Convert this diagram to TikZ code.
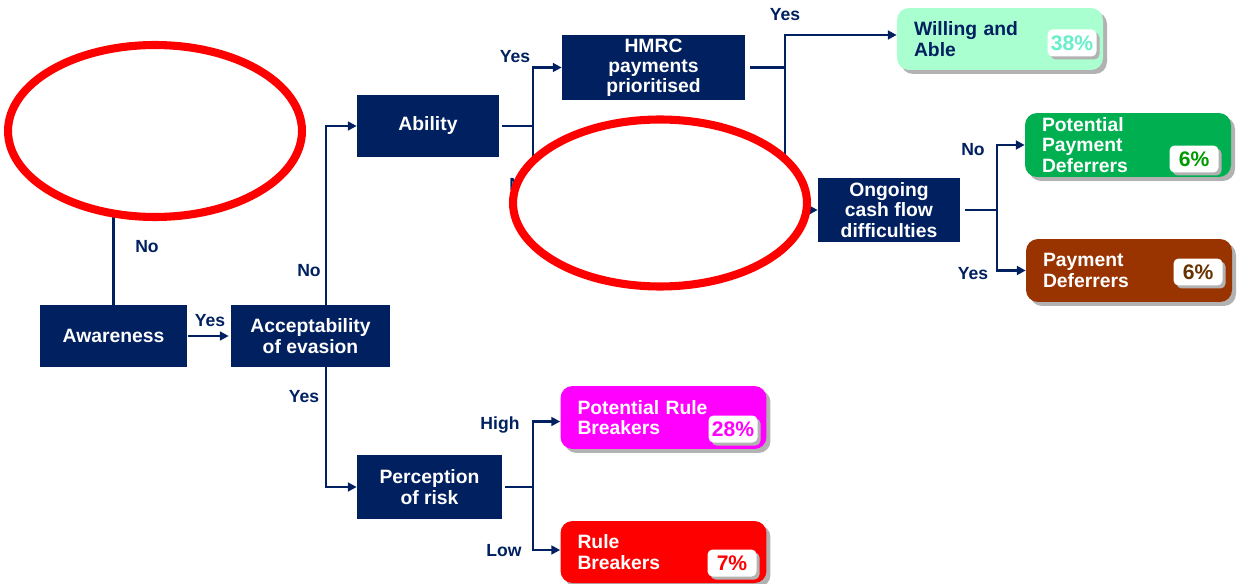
\documentclass[tikz,border=0pt]{standalone}
\usepackage{fontspec}
\setmainfont{Liberation Sans}
\usetikzlibrary{arrows.meta,shapes.geometric,shadows}

\definecolor{navy}{RGB}{0,32,96}
\definecolor{mint}{RGB}{170,255,208}
\definecolor{mintdark}{RGB}{102,240,200}
\definecolor{leaf}{RGB}{0,176,80}
\definecolor{leafdark}{RGB}{0,153,0}
\definecolor{rust}{RGB}{153,51,0}
\definecolor{rustdark}{RGB}{102,51,0}
\definecolor{pinkish}{RGB}{255,0,255}
\definecolor{redish}{RGB}{255,0,0}

\tikzset{
  qbox/.style={fill=navy, text=white, font=\bfseries\fontsize{11}{11.5}\selectfont,
    align=center, inner sep=0pt},
  rbox/.style={rounded corners=0.24cm, text=white, font=\bfseries\fontsize{11}{11.5}\selectfont,
    align=left, inner xsep=0.34cm, inner ysep=0pt, minimum width=4.12cm, text width=3.44cm,
    drop shadow={shadow xshift=0.08cm, shadow yshift=-0.08cm, fill=gray!60, opacity=1}},
  pct/.style={fill=white, rounded corners=0.1cm, font=\bfseries\fontsize{12}{12}\selectfont,
    minimum width=0.98cm, minimum height=0.54cm, inner sep=0pt,
    drop shadow={shadow xshift=0.06cm, shadow yshift=-0.06cm, fill=gray!60, opacity=1}},
  lab/.style={text=navy, font=\bfseries\fontsize{10}{10}\selectfont, inner sep=0pt},
  link/.style={draw=navy, line width=1.2pt},
  arr/.style={link, -{Triangle[length=5pt,width=5pt]}},
  ring/.style={ellipse, draw=redish, fill=white, line width=4.6pt}
}

\begin{document}
\begin{tikzpicture}[x=0.02cm, y=-0.02cm]
  \useasboundingbox (0,0) rectangle (1239,584);

  % question boxes
  \node[qbox, minimum width=2.94cm, minimum height=1.24cm] (aware) at (113.5,336) {Awareness};
  \node[qbox, minimum width=3.18cm, minimum height=1.24cm] (accept) at (310.5,336) {Acceptability\\of evasion};
  \node[qbox, minimum width=2.84cm, minimum height=1.24cm] (ability) at (428,126) {Ability};
  \node[qbox, minimum width=3.66cm, minimum height=1.3cm] (hmrc) at (653.5,67.5) {HMRC\\payments\\prioritised};
  \node[qbox, minimum width=2.84cm, minimum height=1.28cm] (ongoing) at (889,210) {Ongoing\\cash flow\\difficulties};
  \node[qbox, minimum width=2.9cm, minimum height=1.28cm] (risk) at (429.5,487) {Perception\\of risk};

  % outcome boxes
  \node[rbox, fill=mint, text=navy, minimum height=1.24cm] (willing) at (1000,39) {Willing and\\Able};
  \node[rbox, fill=leaf, minimum height=1.28cm] (ppd) at (1128,145) {Potential\\Payment\\Deferrers};
  \node[rbox, fill=rust, minimum height=1.26cm] (pd) at (1129,270.5) {Payment\\Deferrers};
  \node[rbox, fill=pinkish, minimum height=1.26cm] (prb) at (663.5,417.5) {Potential Rule\\Breakers};
  \node[rbox, fill=redish, minimum height=1.24cm] (rb) at (663.5,552) {Rule\\Breakers};

  \node[pct, text=mintdark] (pwilling) at (1072,43) {38\%};
  \node[pct, text=leafdark] (pppd) at (1194,159) {6\%};
  \node[pct, text=rustdark] (ppd2) at (1198,272) {6\%};
  \node[pct, text=pinkish] (pprb) at (733,429) {28\%};
  \node[pct, text=redish] (prb2) at (732,563) {7\%};

  % connectors
  \coordinate (abno) at (620,210);
  \draw[link] (aware.north) -- ++(0,-120);
  \draw[arr] ([xshift=-0.06cm]aware.east) ++(4,0) -- ([xshift=-0.04cm]accept.west);
  \draw[arr] ([xshift=0.31cm]accept.north) |- (ability.west);
  \draw[arr] ([xshift=0.31cm]accept.south) |- (risk.west);
  \draw[link] ([xshift=0.06cm]ability.east) -- ++(31,0) coordinate (jab);
  \draw[arr] (jab) |- (hmrc.west);
  \draw[link] (jab) |- (abno);
  \draw[link] ([xshift=0.1cm]hmrc.east) -- ++(35,0) coordinate (jhm);
  \draw[arr] (jhm) |- ([yshift=0.08cm]willing.west);
  \draw[arr] (jhm) |- (ongoing.west);
  \draw[link] ([xshift=0.1cm]ongoing.east) -- ++(32,0) coordinate (jog);
  \draw[arr] (jog) |- (ppd.west);
  \draw[arr] (jog) |- (pd.west);
  \draw[link] ([xshift=0.06cm]risk.east) -- ++(28,0) coordinate (jrk);
  \draw[arr] (jrk) |- ([yshift=-0.08cm]prb.west);
  \draw[arr] (jrk) |- ([yshift=0.04cm]rb.west);

  % branch labels
  \node[lab] (l1) at (147,247) {No};
  \node[lab] (l2) at (210,321) {Yes};
  \node[lab] (l3) at (309,271) {No};
  \node[lab] (l4) at (304,397) {Yes};
  \node[lab] (l5) at (515,57) {Yes};
  \node[lab] (l6) at (521,185) {No};
  \node[lab] (l7) at (785,15) {Yes};
  \node[lab] (l8) at (973,150) {No};
  \node[lab] (l9) at (973,274) {Yes};
  \node[lab] (l10) at (500,425) {High};
  \node[lab] (l11) at (504,551) {Low};

  % red rings on top
  \node[ring, minimum width=5.88cm, minimum height=3.44cm] (ring1) at (155,131) {};
  \node[ring, minimum width=5.88cm, minimum height=3.34cm] (ring2) at (660,203) {};
\end{tikzpicture}
\end{document}
